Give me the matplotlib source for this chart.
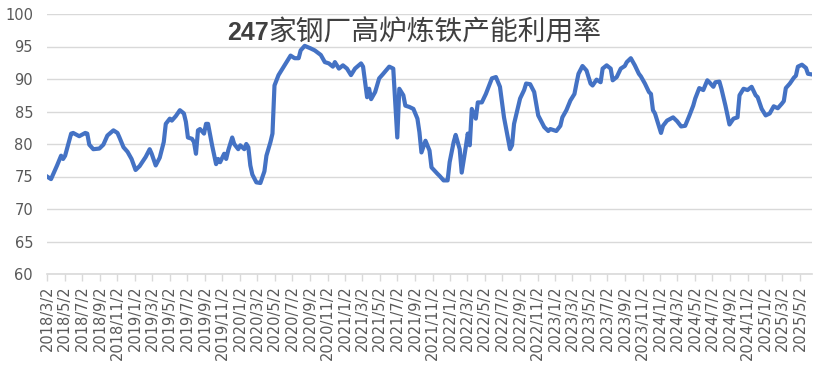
import matplotlib
matplotlib.use("Agg")
import matplotlib.pyplot as plt
import pandas as pd

LINE = "#4472c4"
GRID = "#d9d9d9"
TICK_TEXT = "#595959"
TITLE = "#404040"

START = "2018-03-02"  # first weekly reading (Friday)

# weeks after START
week_no = [
    0, 2, 5, 7, 8, 9, 12, 13, 16, 19, 20, 21, 23, 26, 28, 30, 33, 35, 36, 38,
    40, 42, 44, 46, 49, 51, 52, 54, 56, 58, 59, 61, 62, 64, 66, 68, 69, 70, 72, 73,
    74, 75, 76, 78, 79, 80, 82, 84, 85, 86, 88, 89, 90, 92, 93, 95, 96, 98, 99, 100,
    101, 102, 104, 106, 108, 109, 111, 112, 113, 115, 117, 119, 121, 123, 125, 126, 128, 131, 133, 136,
    138, 140, 142, 143, 145, 147, 149, 151, 153, 156, 157, 159, 160, 161, 163, 165, 167, 170, 172, 174,
    175, 177, 178, 180, 182, 184, 185, 186, 188, 190, 191, 194, 195, 197, 199, 200, 202, 203, 205, 206,
    208, 209, 210, 211, 213, 214, 216, 218, 219, 221, 223, 225, 227, 230, 231, 232, 235, 237, 238, 240,
    242, 244, 247, 249, 250, 252, 253, 255, 256, 258, 260, 262, 263, 264, 266, 268, 270, 271, 273, 275,
    276, 278, 280, 281, 283, 285, 287, 288, 290, 292, 294, 295, 297, 299, 300, 301, 302, 305, 306, 308,
    311, 313, 315, 317, 319, 321, 322, 324, 326, 328, 329, 331, 332, 334, 335, 337, 339, 341, 343, 344,
    346, 348, 350, 352, 353, 355, 357, 359, 361, 363, 365, 366, 367, 369, 371, 372, 373, 375, 377, 378,
    380,
]

# capacity utilisation, %
utilisation = [
    75.0, 74.6, 76.7, 78.2, 77.7, 78.2, 81.6, 81.7, 81.2, 81.7, 81.6, 79.9, 79.2, 79.3, 79.9, 81.3, 82.1, 81.7, 81.0, 79.5,
    78.8, 77.7, 76.0, 76.6, 78.0, 79.2, 78.5, 76.7, 77.9, 80.3, 83.1, 83.9, 83.6, 84.3, 85.2, 84.7, 83.4, 81.0, 80.8, 80.3,
    78.5, 82.1, 82.3, 81.6, 83.1, 83.1, 79.8, 76.9, 77.7, 77.2, 78.5, 77.7, 79.0, 81.0, 80.0, 79.2, 79.8, 79.2, 80.0, 79.5,
    76.7, 75.3, 74.1, 74.0, 75.8, 78.2, 80.3, 81.6, 89.0, 90.6, 91.6, 92.6, 93.6, 93.2, 93.2, 94.4, 95.1, 94.7, 94.4, 93.7,
    92.6, 92.4, 91.9, 92.6, 91.6, 92.1, 91.6, 90.6, 91.6, 92.4, 91.9, 87.2, 88.5, 86.9, 88.0, 90.1, 90.8, 91.9, 91.6, 81.0,
    88.5, 87.5, 85.9, 85.7, 85.4, 83.9, 81.8, 78.7, 80.5, 79.0, 76.4, 75.4, 75.1, 74.4, 74.4, 77.2, 80.3, 81.4, 79.2, 75.6,
    79.5, 81.6, 79.8, 85.4, 83.9, 86.4, 86.4, 87.7, 88.5, 90.1, 90.3, 88.8, 84.1, 79.2, 79.8, 83.1, 87.0, 88.3, 89.3, 89.2,
    88.0, 84.4, 82.6, 82.0, 82.3, 82.1, 82.0, 82.8, 84.1, 85.2, 86.7, 87.7, 89.3, 90.8, 92.0, 91.3, 89.3, 89.0, 89.9, 89.5,
    91.6, 92.1, 91.6, 89.8, 90.3, 91.6, 92.0, 92.6, 93.2, 92.1, 90.8, 90.4, 89.3, 88.0, 87.7, 85.2, 84.7, 81.7, 82.8, 83.6,
    84.1, 83.5, 82.7, 82.8, 84.3, 85.9, 87.0, 88.6, 88.3, 89.8, 89.5, 88.8, 89.5, 89.6, 88.5, 85.9, 83.0, 83.9, 84.1, 87.5,
    88.5, 88.3, 88.8, 87.5, 87.2, 85.4, 84.4, 84.7, 85.8, 85.5, 86.2, 86.6, 88.6, 89.3, 90.2, 90.5, 91.9, 92.2, 91.7, 90.8,
    90.7,
]

tick_labels = [
    "2018/3/2", "2018/5/2", "2018/7/2", "2018/9/2", "2018/11/2",
    "2019/1/2", "2019/3/2", "2019/5/2", "2019/7/2", "2019/9/2", "2019/11/2",
    "2020/1/2", "2020/3/2", "2020/5/2", "2020/7/2", "2020/9/2", "2020/11/2",
    "2021/1/2", "2021/3/2", "2021/5/2", "2021/7/2", "2021/9/2", "2021/11/2",
    "2022/1/2", "2022/3/2", "2022/5/2", "2022/7/2", "2022/9/2", "2022/11/2",
    "2023/1/2", "2023/3/2", "2023/5/2", "2023/7/2", "2023/9/2", "2023/11/2",
    "2024/1/2", "2024/3/2", "2024/5/2", "2024/7/2", "2024/9/2", "2024/11/2",
    "2025/1/2", "2025/3/2", "2025/5/2",
]

dates = pd.Timestamp(START) + pd.to_timedelta([w * 7 for w in week_no], unit="D")
tick_dates = pd.to_datetime(tick_labels, format="%Y/%m/%d")

fig = plt.figure(figsize=(8.31, 3.75), dpi=100, facecolor="white")
ax = fig.add_axes([47 / 831, 1 - 274 / 375, (812 - 47) / 831, (274 - 14) / 375])

ax.plot(dates, utilisation, color=LINE, linewidth=3, solid_joinstyle="round")

ax.set_ylim(60, 100)
ax.set_yticks(range(60, 101, 5))
ax.set_xlim(dates[0], dates[-1])
ax.set_xticks(tick_dates)
ax.set_xticklabels(tick_labels, rotation=90, fontsize=10.5, color=TICK_TEXT)

ax.grid(axis="y", color=GRID, linewidth=1)
ax.set_axisbelow(True)
for side in ("top", "right", "left"):
    ax.spines[side].set_visible(False)
ax.spines["bottom"].set_color(GRID)
ax.spines["bottom"].set_linewidth(1.2)
ax.tick_params(axis="y", length=0, labelsize=10.5, labelcolor=TICK_TEXT, pad=10)
ax.tick_params(axis="x", length=5, color=GRID, width=1, pad=3)

# title: bold number, regular Chinese characters
fig.text(269 / 831, 1 - 33 / 375, "247", ha="right", va="center",
         fontsize=18, fontweight="bold", color=TITLE,
         family=["Liberation Sans", "DejaVu Sans"])
fig.text(268 / 831, 1 - 33 / 375, "家钢厂高炉炼铁产能利用率", ha="left", va="center",
         fontsize=20, color=TITLE, family=["Noto Sans CJK SC", "DejaVu Sans"])

fig.savefig("out.png", dpi=100, facecolor="white")
